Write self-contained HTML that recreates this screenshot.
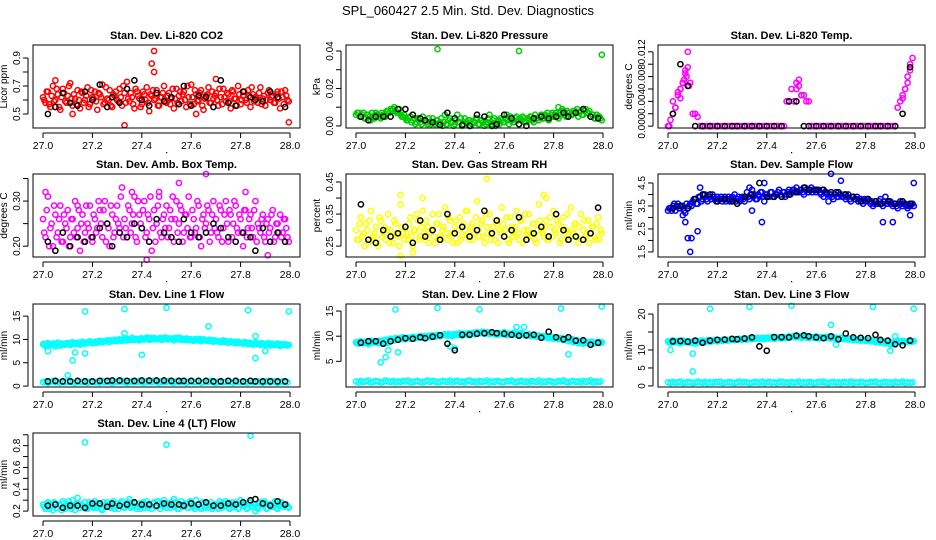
<!DOCTYPE html>
<html><head><meta charset="utf-8">
<style>
html,body{margin:0;padding:0;background:#fff;}
svg{display:block;font-family:"Liberation Sans",Arial,sans-serif;}
</style></head>
<body>
<svg id="chart" width="936" height="540" viewBox="0 0 936 540">
<text x="468" y="15" text-anchor="middle" font-size="13">SPL_060427  2.5 Min. Std. Dev. Diagnostics</text>
</svg>
<script>
// ---- shared time axes ----
const times = [27.00,27.01,27.02,27.03,27.04,27.05,27.06,27.07,27.08,27.09,27.10,27.11,27.12,27.13,27.14,27.15,27.16,27.17,27.18,27.19,27.20,27.21,27.22,27.23,27.24,27.25,27.26,27.27,27.28,27.29,27.30,27.31,27.32,27.33,27.34,27.35,27.36,27.37,27.38,27.39,27.40,27.41,27.42,27.43,27.44,27.45,27.46,27.47,27.48,27.49,27.50,27.51,27.52,27.53,27.54,27.55,27.56,27.57,27.58,27.59,27.60,27.61,27.62,27.63,27.64,27.65,27.66,27.67,27.68,27.69,27.70,27.71,27.72,27.73,27.74,27.75,27.76,27.77,27.78,27.79,27.80,27.81,27.82,27.83,27.84,27.85,27.86,27.87,27.88,27.89,27.90,27.91,27.92,27.93,27.94,27.95,27.96,27.97,27.98,27.99];
const timesB = [27.005,27.015,27.025,27.035,27.045,27.055,27.065,27.075,27.085,27.095,27.105,27.115,27.125,27.135,27.145,27.155,27.165,27.175,27.185,27.195,27.205,27.215,27.225,27.235,27.245,27.255,27.265,27.275,27.285,27.295,27.305,27.315,27.325,27.335,27.345,27.355,27.365,27.375,27.385,27.395,27.405,27.415,27.425,27.435,27.445,27.455,27.465,27.475,27.485,27.495,27.505,27.515,27.525,27.535,27.545,27.555,27.565,27.575,27.585,27.595,27.605,27.615,27.625,27.635,27.645,27.655,27.665,27.675,27.685,27.695,27.705,27.715,27.725,27.735,27.745,27.755,27.765,27.775,27.785,27.795,27.805,27.815,27.825,27.835,27.845,27.855,27.865,27.875,27.885,27.895,27.905,27.915,27.925,27.935,27.945,27.955,27.965,27.975,27.985,27.995];
const blackTimes = [27.02,27.05,27.08,27.11,27.14,27.17,27.20,27.23,27.26,27.28,27.31,27.34,27.37,27.40,27.43,27.46,27.49,27.52,27.55,27.57,27.60,27.63,27.66,27.69,27.72,27.75,27.78,27.81,27.84,27.86,27.89,27.92,27.95,27.98];
const xTicks = [27.0,27.2,27.4,27.6,27.8,28.0];
const xTickLabels = ["27.0","27.2","27.4","27.6","27.8","28.0"];

// ---- CO2 ----
const co2Vals = [0.62,0.58,0.66,0.55,0.70,0.60,0.64,0.53,0.68,0.59,0.63,0.72,0.56,0.61,0.67,0.54,0.65,0.60,0.69,0.57,0.62,0.66,0.53,0.64,0.71,0.58,0.61,0.67,0.55,0.63,0.60,0.68,0.56,0.65,0.73,0.59,0.62,0.54,0.66,0.61,0.57,0.64,0.69,0.52,0.63,0.60,0.67,0.56,0.62,0.70,0.58,0.65,0.61,0.54,0.68,0.63,0.59,0.66,0.55,0.62,0.71,0.57,0.64,0.60,0.67,0.53,0.63,0.69,0.58,0.61,0.65,0.56,0.62,0.68,0.59,0.64,0.54,0.66,0.61,0.70,0.57,0.63,0.60,0.67,0.55,0.64,0.62,0.58,0.69,0.61,0.56,0.65,0.60,0.63,0.58,0.66,0.54,0.62,0.67,0.60];
const co2ValsB = [0.60,0.66,0.57,0.63,0.59,0.68,0.55,0.62,0.65,0.58,0.70,0.61,0.64,0.57,0.60,0.66,0.58,0.63,0.55,0.67,0.61,0.59,0.65,0.62,0.57,0.69,0.60,0.56,0.64,0.66,0.59,0.62,0.70,0.58,0.61,0.65,0.57,0.68,0.63,0.55,0.66,0.60,0.58,0.64,0.67,0.61,0.56,0.62,0.65,0.59,0.63,0.57,0.68,0.61,0.58,0.66,0.64,0.60,0.70,0.57,0.62,0.67,0.59,0.65,0.56,0.61,0.64,0.58,0.66,0.63,0.60,0.68,0.57,0.62,0.65,0.59,0.67,0.61,0.56,0.64,0.60,0.66,0.58,0.63,0.69,0.59,0.61,0.65,0.57,0.63,0.60,0.67,0.62,0.58,0.64,0.61,0.66,0.57,0.63,0.59];
const co2OutT = [27.45,27.44,27.45,27.33,27.995,27.12,27.62,27.05,27.7];
const co2OutV = [0.95,0.86,0.80,0.42,0.44,0.50,0.50,0.74,0.75];
const co2Black = [0.50,0.55,0.65,0.58,0.56,0.66,0.60,0.71,0.55,0.62,0.58,0.68,0.74,0.60,0.56,0.65,0.59,0.62,0.57,0.70,0.56,0.63,0.62,0.55,0.74,0.58,0.56,0.66,0.62,0.60,0.59,0.66,0.62,0.55];

// ---- Pressure ----
const presVals = [0.006,0.007,0.005,0.007,0.004,0.006,0.003,0.005,0.007,0.006,0.004,0.006,0.005,0.008,0.009,0.009,0.008,0.007,0.006,0.005,0.004,0.003,0.005,0.003,0.001,0.004,0.002,0.005,0.003,0.001,0.002,0.004,0.001,0.003,0.002,0.000,0.006,0.001,0.004,0.002,0.001,0.006,0.002,0.000,0.004,0.002,0.003,0.001,0.002,0.004,0.001,0.003,0.000,0.002,0.006,0.001,0.004,0.002,0.001,0.003,0.002,0.006,0.001,0.003,0.002,0.005,0.001,0.003,0.004,0.002,0.003,0.005,0.002,0.004,0.003,0.006,0.004,0.005,0.003,0.006,0.005,0.007,0.004,0.006,0.008,0.005,0.007,0.006,0.008,0.007,0.005,0.008,0.006,0.009,0.007,0.005,0.006,0.004,0.005,0.004];
const presValsB = [0.007,0.005,0.006,0.004,0.006,0.005,0.007,0.004,0.006,0.005,0.007,0.005,0.008,0.007,0.008,0.010,0.007,0.009,0.005,0.006,0.003,0.004,0.002,0.004,0.002,0.003,0.001,0.003,0.002,0.004,0.001,0.002,0.003,0.001,0.004,0.002,0.001,0.003,0.002,0.000,0.003,0.002,0.004,0.001,0.002,0.003,0.000,0.002,0.004,0.001,0.003,0.002,0.001,0.004,0.002,0.003,0.000,0.003,0.004,0.002,0.004,0.003,0.005,0.002,0.004,0.003,0.004,0.005,0.002,0.004,0.005,0.003,0.006,0.004,0.005,0.004,0.006,0.007,0.005,0.007,0.006,0.005,0.007,0.009,0.006,0.008,0.007,0.006,0.008,0.009,0.007,0.006,0.008,0.007,0.008,0.006,0.004,0.006,0.005,0.003];
const presOutT = [27.33,27.66,27.995,27.82];
const presOutV = [0.041,0.040,0.038,0.010];
const presBlack = [0.005,0.003,0.005,0.005,0.005,0.009,0.009,0.006,0.004,0.003,0.002,0.0005,0.007,0.004,0.0005,0.000,0.006,0.005,0.000,0.001,0.006,0.004,0.001,0.000,0.004,0.005,0.004,0.005,0.007,0.005,0.007,0.009,0.005,0.004];

// ---- Li-820 Temp ----
const tempVals = [0.000,0.001,0.004,0.003,0.005,0.006,0.007,0.009,0.012,0.007,0.002,0.002,0.0015,0,0,0,0,0,0,0,0,0,0,0,0,0,0,0,0,0,0,0,0,0,0,0,0,0,0,0,0,0,0,0,0,0,0,0,0.004,0.004,0.006,0.004,0.007,0.0075,0.005,0.005,0.004,0.004,0,0,0,0,0,0,0,0,0,0,0,0,0,0,0,0,0,0,0,0,0,0,0,0,0,0,0,0,0,0,0,0,0,0,0,0.003,0.004,0.005,0.006,0.008,0.010,0.011];
const tempOutT = [27.03,27.05,27.06,27.07,27.08,27.05,27.52,27.95,27.97,27.98,27.04,27.53,27.54,27.96,27.02,27.065,27.075,27.085,27.005];
const tempOutV = [0.003,0.006,0.007,0.0085,0.0095,0.0045,0.006,0.0045,0.007,0.009,0.0055,0.0065,0.005,0.006,0.002,0.0075,0.008,0.0065,0.0];
const tempBlack = [0.002,0.010,0.0065,0,0,0,0,0,0,0,0,0,0,0,0,0,0.004,0.004,0,0,0,0,0,0,0,0,0,0,0,0,0,0,0.002,0.0095];

// ---- Amb box temp ----
const ambVals = [0.26,0.22,0.31,0.24,0.20,0.27,0.23,0.29,0.21,0.25,0.28,0.22,0.26,0.30,0.24,0.19,0.27,0.23,0.25,0.29,0.21,0.26,0.24,0.28,0.22,0.30,0.25,0.20,0.27,0.23,0.29,0.24,0.33,0.26,0.22,0.28,0.25,0.31,0.21,0.27,0.24,0.30,0.23,0.26,0.19,0.28,0.25,0.32,0.22,0.27,0.29,0.24,0.26,0.21,0.30,0.25,0.28,0.23,0.27,0.31,0.22,0.26,0.24,0.29,0.20,0.27,0.25,0.28,0.23,0.30,0.26,0.22,0.28,0.24,0.30,0.21,0.27,0.25,0.29,0.23,0.26,0.20,0.28,0.24,0.27,0.22,0.30,0.25,0.23,0.27,0.21,0.26,0.24,0.28,0.22,0.25,0.27,0.23,0.26,0.22];
const ambValsB = [0.23,0.28,0.20,0.25,0.29,0.22,0.26,0.21,0.27,0.24,0.20,0.26,0.23,0.22,0.28,0.25,0.21,0.29,0.24,0.22,0.27,0.23,0.30,0.25,0.28,0.21,0.24,0.29,0.22,0.26,0.25,0.31,0.22,0.24,0.29,0.23,0.27,0.22,0.30,0.25,0.28,0.22,0.27,0.31,0.24,0.21,0.29,0.23,0.26,0.24,0.22,0.28,0.31,0.26,0.23,0.29,0.21,0.27,0.24,0.22,0.28,0.23,0.30,0.22,0.26,0.24,0.29,0.21,0.27,0.24,0.23,0.29,0.21,0.27,0.25,0.28,0.22,0.30,0.24,0.27,0.23,0.28,0.22,0.26,0.24,0.28,0.21,0.24,0.26,0.22,0.25,0.23,0.27,0.21,0.25,0.23,0.22,0.26,0.24,0.21];
const ambOutT = [27.01,27.55,27.66,27.42,27.91,27.36,27.82,27.47,27.14];
const ambOutV = [0.32,0.34,0.36,0.17,0.18,0.32,0.32,0.31,0.29];
const ambBlack = [0.21,0.19,0.23,0.20,0.22,0.21,0.22,0.24,0.25,0.20,0.23,0.22,0.25,0.24,0.21,0.26,0.23,0.22,0.21,0.26,0.23,0.22,0.23,0.25,0.24,0.22,0.21,0.23,0.22,0.19,0.24,0.21,0.23,0.21];

// ---- Gas stream RH ----
const rhVals = [0.30,0.27,0.34,0.29,0.32,0.26,0.36,0.28,0.31,0.25,0.33,0.29,0.27,0.35,0.30,0.26,0.32,0.28,0.38,0.29,0.31,0.27,0.34,0.25,0.30,0.33,0.28,0.36,0.27,0.31,0.29,0.35,0.26,0.32,0.28,0.30,0.37,0.27,0.33,0.29,0.31,0.26,0.34,0.28,0.30,0.36,0.27,0.32,0.29,0.39,0.28,0.33,0.26,0.31,0.35,0.29,0.27,0.32,0.30,0.37,0.28,0.34,0.26,0.31,0.29,0.36,0.27,0.33,0.30,0.28,0.35,0.29,0.32,0.26,0.38,0.30,0.28,0.33,0.27,0.31,0.36,0.29,0.32,0.27,0.34,0.30,0.28,0.37,0.29,0.32,0.26,0.35,0.30,0.28,0.33,0.29,0.31,0.27,0.34,0.30];
const rhValsB = [0.27,0.32,0.28,0.25,0.30,0.33,0.27,0.29,0.26,0.34,0.28,0.31,0.30,0.26,0.28,0.33,0.29,0.25,0.31,0.27,0.29,0.32,0.28,0.30,0.35,0.27,0.31,0.29,0.33,0.26,0.30,0.28,0.32,0.35,0.27,0.31,0.29,0.34,0.28,0.26,0.33,0.30,0.27,0.32,0.36,0.29,0.31,0.27,0.34,0.30,0.32,0.28,0.35,0.29,0.27,0.31,0.33,0.26,0.29,0.32,0.30,0.27,0.34,0.28,0.31,0.29,0.33,0.26,0.35,0.30,0.28,0.32,0.27,0.30,0.33,0.29,0.31,0.27,0.34,0.28,0.30,0.33,0.26,0.31,0.29,0.35,0.27,0.30,0.32,0.28,0.31,0.27,0.33,0.29,0.26,0.31,0.28,0.32,0.27,0.29];
const rhOutT = [27.53,27.18,27.27,27.76,27.77,27.23,27.18];
const rhOutV = [0.46,0.41,0.40,0.41,0.40,0.23,0.22];
const rhBlack = [0.38,0.27,0.26,0.30,0.28,0.29,0.31,0.26,0.33,0.28,0.30,0.27,0.35,0.29,0.31,0.28,0.30,0.36,0.29,0.33,0.28,0.30,0.34,0.27,0.29,0.31,0.28,0.35,0.30,0.27,0.28,0.27,0.29,0.37];

// ---- Sample flow ----
const flowVals = [3.3,3.4,3.5,3.3,3.6,3.4,3.5,3.2,3.4,3.6,3.7,3.8,3.6,3.9,3.8,4.0,3.7,3.9,4.0,3.8,3.9,3.8,3.7,3.9,3.8,3.7,3.9,4.0,3.8,3.7,3.9,3.7,4.1,3.8,4.2,4.0,3.8,3.9,4.1,3.7,4.0,3.9,4.1,3.9,4.0,4.2,3.9,4.1,4.0,4.2,4.1,4.2,4.3,4.1,4.2,4.0,4.2,4.1,4.3,4.2,4.1,4.2,4.0,3.9,4.1,3.7,4.0,3.8,4.1,3.9,4.0,3.9,3.8,4.0,3.7,3.9,3.8,3.7,3.8,3.6,3.7,3.8,3.6,3.5,3.7,3.6,3.8,3.5,3.9,3.6,3.7,3.5,3.6,3.4,3.7,3.5,3.6,3.4,3.5,3.6];
const flowValsB = [3.4,3.3,3.6,3.5,3.4,3.5,3.3,3.6,3.5,3.5,3.8,3.6,3.9,3.7,4.0,3.8,3.9,3.8,3.9,3.7,3.8,3.9,3.8,3.7,3.9,3.8,3.8,3.7,3.9,3.8,3.8,3.9,3.9,4.0,3.9,3.8,4.0,4.1,3.9,4.0,3.9,4.1,3.9,4.0,4.1,4.0,4.1,3.9,4.1,4.0,4.2,4.1,4.1,4.2,4.1,4.3,4.1,4.2,4.1,4.2,4.2,4.1,4.2,4.1,4.0,4.0,3.9,4.0,3.9,4.0,3.9,4.0,3.9,3.8,3.9,3.8,3.9,3.8,3.7,3.8,3.8,3.7,3.7,3.6,3.6,3.7,3.6,3.7,3.6,3.7,3.6,3.6,3.5,3.6,3.6,3.6,3.5,3.5,3.6,3.5];
const flowOutT = [27.09,27.08,27.095,27.12,27.07,27.66,27.70,27.38,27.995,27.98,27.87,27.91,27.06,27.13,27.33,27.39,27.34];
const flowOutV = [1.5,2.1,2.1,2.4,2.8,4.9,4.6,2.8,4.5,3.1,2.8,2.8,3.1,4.3,4.3,4.5,3.3];
const flowBlack = [3.4,3.5,3.4,3.8,4.0,4.0,3.7,3.8,3.7,3.6,3.9,4.0,4.5,3.9,3.9,3.9,4.0,4.1,4.3,4.2,4.2,4.2,4.1,4.1,4.0,3.9,3.7,3.8,3.7,3.6,3.7,3.6,3.7,3.6];

// ---- Line 1 flow ----
const l1Upper = [9.0,8.6,9.2,8.8,9.1,8.5,9.3,8.7,9.0,8.9,9.2,8.8,9.4,9.0,9.3,8.9,9.5,9.1,9.3,9.6,9.2,9.5,9.3,9.7,9.4,9.6,9.8,9.5,9.7,9.9,9.6,10.0,9.7,10.2,9.8,10.0,10.3,9.9,10.1,9.8,10.2,10.0,10.4,9.9,10.1,10.3,10.0,10.2,9.9,10.1,10.3,10.0,10.2,9.8,10.1,10.4,9.9,10.0,10.2,9.8,10.0,9.7,10.1,9.9,9.6,10.0,9.8,9.7,9.9,9.5,9.7,9.6,9.4,9.8,9.5,9.3,9.6,9.4,9.2,9.5,9.3,9.1,9.4,9.0,9.2,8.9,9.3,9.0,8.8,9.1,8.9,9.2,8.7,9.0,8.8,9.1,8.6,8.9,9.0,8.7];
const l1UpperB = [8.8,9.1,8.9,9.0,8.7,9.0,8.8,9.1,8.9,9.2,9.0,9.3,9.1,9.2,9.1,9.4,9.2,9.3,9.5,9.3,9.4,9.3,9.6,9.5,9.6,9.7,9.5,9.8,9.6,9.7,9.9,9.8,10.0,9.8,10.1,9.9,10.0,10.1,9.9,10.2,10.0,10.2,10.1,10.3,10.0,10.2,10.1,10.3,10.2,10.4,10.0,10.2,10.1,10.3,10.0,10.2,10.1,9.9,10.1,10.0,9.8,10.0,9.9,10.1,9.8,9.9,9.7,9.9,9.6,9.8,9.6,9.5,9.7,9.5,9.6,9.4,9.5,9.3,9.5,9.3,9.2,9.4,9.2,9.3,9.0,9.2,9.1,9.0,9.2,8.9,9.0,8.9,9.1,8.8,9.0,8.8,9.0,8.8,8.9,8.8];
const l1Lower = [0.8,1.0,0.7,0.9,1.1,0.8,0.9,0.7,1.0,0.8,0.9,1.1,0.8,0.7,1.0,0.9,0.8,1.1,0.7,0.9,1.0,0.8,0.9,0.7,1.1,0.8,1.0,0.9,0.7,0.8,1.0,0.9,1.1,0.8,0.7,0.9,1.0,0.8,0.9,1.1,0.8,0.7,1.0,0.9,0.8,1.1,0.9,0.7,1.0,0.8,0.9,1.1,0.8,0.7,1.0,0.9,0.8,1.0,0.7,0.9,1.1,0.8,0.9,1.0,0.7,0.8,1.0,0.9,1.1,0.8,0.7,0.9,1.0,0.8,0.9,1.1,0.8,0.7,1.0,0.9,0.8,1.0,0.9,0.7,1.1,0.8,0.9,1.0,0.8,0.7,0.9,1.1,0.8,1.0,0.9,0.7,0.8,1.0,0.9,0.8];
const l1OutT = [27.17,27.33,27.50,27.83,27.995,27.67,27.86,27.86,27.12,27.10,27.17,27.40,27.02,27.33,27.13,27.9];
const l1OutV = [16.0,16.5,16.8,16.3,16.0,12.8,6.0,10.7,5.5,2.3,7.0,6.7,7.5,11.3,7.2,7.5];
const l1Black = [1.0,1.1,1.0,1.0,1.1,1.0,1.0,1.1,1.1,1.2,1.2,1.1,1.1,1.2,1.2,1.2,1.2,1.1,1.1,1.1,1.1,1.1,1.1,1.0,1.0,1.1,1.1,1.0,1.1,1.0,1.0,1.0,1.0,1.0];

// ---- Line 2 flow ----
const l2Upper = [8.8,8.5,9.0,8.6,8.9,8.4,9.1,8.7,8.9,8.6,9.0,8.8,9.3,8.7,9.5,9.1,9.6,9.3,9.5,9.8,9.4,9.7,9.5,9.9,9.6,9.8,10.0,9.7,9.9,10.1,9.8,10.2,9.9,10.3,10.0,10.2,10.4,10.1,10.3,10.0,10.4,10.2,10.6,10.1,10.3,10.5,10.2,10.6,10.4,10.8,10.6,10.9,10.5,10.8,10.4,10.7,10.5,10.3,10.6,10.4,10.8,10.2,10.5,10.3,10.7,10.4,10.2,10.6,10.3,10.1,10.4,10.0,10.2,9.9,10.1,9.7,10.0,9.8,9.6,9.9,9.5,9.7,9.4,9.6,9.2,9.5,9.0,9.3,8.8,9.1,8.6,8.9,8.5,8.8,8.6,8.9,8.5,8.7,8.9,8.6];
const l2UpperB = [8.6,8.9,8.7,8.8,8.6,8.8,8.9,9.0,8.8,9.1,8.9,9.2,9.0,9.3,9.2,9.4,9.3,9.6,9.4,9.6,9.5,9.7,9.6,9.8,9.7,9.9,9.8,10.0,9.9,10.1,10.0,10.1,10.0,10.2,10.1,10.3,10.2,10.4,10.2,10.4,10.3,10.5,10.3,10.5,10.4,10.6,10.5,10.7,10.5,10.7,10.6,10.8,10.6,10.7,10.5,10.6,10.4,10.6,10.4,10.5,10.3,10.5,10.4,10.6,10.3,10.5,10.3,10.4,10.2,10.3,10.1,10.2,10.0,10.1,9.9,10.0,9.8,9.9,9.7,9.8,9.6,9.7,9.5,9.6,9.4,9.5,9.3,9.4,9.1,9.2,8.9,9.0,8.7,8.8,8.7,8.9,8.6,8.8,8.7,8.8];
const l2Lower = [1.0,0.8,1.1,0.9,1.0,1.2,0.8,0.9,1.1,1.0,0.8,0.9,1.2,1.0,0.9,1.1,0.8,1.0,0.9,1.1,1.0,1.2,0.8,0.9,1.0,1.1,0.9,0.8,1.0,1.2,0.9,1.1,1.0,0.8,0.9,1.1,1.0,0.9,1.2,0.8,1.0,1.1,0.9,1.0,0.8,1.1,1.2,0.9,1.0,0.8,1.1,0.9,1.0,1.2,0.8,1.0,0.9,1.1,1.0,0.8,0.9,1.1,1.0,1.2,0.9,0.8,1.0,1.1,0.9,1.0,0.8,1.1,1.0,0.9,1.2,0.8,1.0,0.9,1.1,1.0,0.8,0.9,1.1,1.0,1.2,0.9,0.8,1.0,1.1,0.9,1.0,0.8,1.1,0.9,1.0,1.2,0.8,1.0,0.9,1.0];
const l2OutT = [27.16,27.33,27.50,27.83,27.995,27.10,27.12,27.13,27.17,27.4,27.38,27.65,27.68,27.86];
const l2OutV = [15.3,15.6,15.3,15.5,15.9,4.8,5.8,7.2,6.8,7.6,8.0,11.8,11.8,6.4];
const l2Black = [8.7,9.0,9.0,8.5,9.0,9.3,9.6,9.5,9.8,9.6,9.9,10.2,8.5,7.2,10.3,10.3,10.5,10.6,10.8,10.6,10.5,10.3,10.1,10.2,10.3,9.7,10.9,9.8,9.4,9.8,9.1,9.2,8.3,8.7];

// ---- Line 3 flow ----
const l3Upper = [12.4,12.0,12.7,12.2,12.5,11.9,12.6,12.1,12.4,12.0,12.3,11.8,12.5,12.1,12.6,12.2,12.7,12.3,12.5,12.8,12.4,12.7,12.5,12.9,12.6,12.8,13.0,12.7,12.9,13.1,12.8,13.2,12.9,13.3,13.0,13.2,13.4,13.1,13.3,13.0,13.4,13.2,13.6,13.1,13.3,13.5,13.2,13.6,13.4,13.8,13.6,13.9,13.5,13.8,13.4,13.7,13.5,13.3,13.6,13.4,13.8,13.2,13.5,13.3,13.7,13.4,13.2,13.6,13.3,13.1,13.4,13.0,13.2,12.9,13.1,12.7,13.0,12.8,12.6,12.9,12.5,12.7,12.4,12.6,12.2,12.5,12.0,12.3,11.8,12.1,11.6,11.9,12.3,12.6,12.2,12.5,12.1,12.4,12.6,12.3];
const l3UpperB = [12.1,12.5,12.2,12.4,12.0,12.3,12.5,12.2,12.4,12.1,12.5,12.2,12.3,12.6,12.4,12.5,12.7,12.4,12.6,12.8,12.6,12.7,12.9,12.7,12.8,13.0,12.8,13.0,13.1,12.9,13.1,13.0,13.2,13.1,13.3,13.1,13.3,13.2,13.4,13.2,13.4,13.3,13.5,13.3,13.5,13.4,13.6,13.4,13.6,13.5,13.7,13.5,13.7,13.6,13.5,13.6,13.4,13.6,13.5,13.7,13.4,13.6,13.4,13.5,13.3,13.5,13.3,13.4,13.2,13.3,13.1,13.2,13.0,13.1,12.9,13.0,12.8,12.9,12.7,12.8,12.6,12.7,12.5,12.6,12.4,12.5,12.3,12.4,12.2,12.3,12.0,12.2,12.1,12.4,12.3,12.5,12.2,12.4,12.3,12.5];
const l3Lower = [1.0,0.8,1.1,0.9,1.0,1.2,0.8,0.9,1.1,1.0,0.8,0.9,1.2,1.0,0.9,1.1,0.8,1.0,0.9,1.1,1.0,1.2,0.8,0.9,1.0,1.1,0.9,0.8,1.0,1.2,0.9,1.1,1.0,0.8,0.9,1.1,1.0,0.9,1.2,0.8,1.0,1.1,0.9,1.0,0.8,1.1,1.2,0.9,1.0,0.8,1.1,0.9,1.0,1.2,0.8,1.0,0.9,1.1,1.0,0.8,0.9,1.1,1.0,1.2,0.9,0.8,1.0,1.1,0.9,1.0,0.8,1.1,1.0,0.9,1.2,0.8,1.0,0.9,1.1,1.0,0.8,0.9,1.1,1.0,1.2,0.9,0.8,1.0,1.1,0.9,1.0,0.8,1.1,0.9,1.0,1.2,0.8,1.0,0.9,1.0];
const l3OutT = [27.17,27.33,27.50,27.83,27.995,27.01,27.10,27.10,27.66,27.9,27.92,27.68];
const l3OutV = [21.5,22.0,22.3,22.0,21.5,10.0,9.0,4.0,17.0,9.8,13.8,11.5];
const l3Black = [12.4,12.5,12.3,12.6,12.0,12.6,12.8,12.9,13.1,13.0,13.2,13.5,11.0,9.8,13.6,13.6,13.5,14.0,14.1,13.8,13.5,13.3,13.8,13.0,14.6,13.5,13.4,13.3,14.2,12.8,12.6,11.6,11.3,12.6];

// ---- Line 4 flow ----
const l4Vals = [0.26,0.22,0.28,0.24,0.21,0.27,0.23,0.25,0.29,0.22,0.26,0.24,0.30,0.21,0.27,0.23,0.25,0.28,0.22,0.26,0.24,0.29,0.23,0.27,0.21,0.25,0.28,0.24,0.26,0.22,0.27,0.25,0.29,0.23,0.26,0.31,0.24,0.28,0.22,0.27,0.25,0.23,0.29,0.26,0.22,0.28,0.24,0.27,0.25,0.30,0.23,0.26,0.28,0.24,0.27,0.22,0.29,0.25,0.26,0.23,0.28,0.24,0.30,0.26,0.22,0.27,0.25,0.23,0.28,0.24,0.26,0.22,0.27,0.25,0.29,0.23,0.26,0.24,0.28,0.22,0.30,0.25,0.27,0.23,0.29,0.24,0.26,0.22,0.28,0.25,0.27,0.23,0.26,0.24,0.29,0.22,0.27,0.25,0.26,0.24];
const l4ValsB = [0.24,0.27,0.22,0.25,0.28,0.23,0.26,0.21,0.27,0.24,0.29,0.22,0.25,0.27,0.23,0.26,0.24,0.22,0.28,0.25,0.23,0.27,0.25,0.22,0.28,0.24,0.26,0.23,0.29,0.25,0.22,0.27,0.24,0.26,0.28,0.23,0.25,0.27,0.24,0.22,0.28,0.26,0.23,0.25,0.27,0.24,0.29,0.22,0.26,0.25,0.27,0.23,0.25,0.28,0.22,0.26,0.24,0.27,0.23,0.29,0.25,0.22,0.26,0.24,0.28,0.23,0.27,0.25,0.22,0.26,0.24,0.29,0.23,0.27,0.25,0.22,0.28,0.24,0.26,0.23,0.27,0.25,0.22,0.28,0.24,0.26,0.23,0.27,0.25,0.29,0.22,0.26,0.24,0.27,0.23,0.25,0.28,0.24,0.26,0.23];
const l4OutT = [27.17,27.50,27.84,27.14,27.53,27.86];
const l4OutV = [0.83,0.81,0.89,0.32,0.31,0.20];
const l4Black = [0.25,0.26,0.23,0.25,0.25,0.23,0.27,0.27,0.24,0.27,0.25,0.26,0.28,0.26,0.26,0.25,0.27,0.26,0.26,0.25,0.27,0.26,0.28,0.25,0.25,0.27,0.26,0.28,0.30,0.31,0.27,0.25,0.29,0.26];

const NS = 'http://www.w3.org/2000/svg';
const svg = document.getElementById('chart');
function mk(tag, attrs, parent){
  const e = document.createElementNS(NS, tag);
  for (const k in attrs) e.setAttribute(k, attrs[k]);
  (parent||svg).appendChild(e);
  return e;
}

const colLeft = [33, 346, 658];
const rowTop = [45, 174, 304, 433];
const boxW = 267, boxH = 83;

function panel(key, col, row, title, ylab, ylim, yTicks, yLabels, series){
  const L = colLeft[col], T = rowTop[row], R = L+boxW, B = T+boxH;
  const g = mk('g', {});
  
  
  const xs = v => L + 10 + (v-27)*(boxW-20);
  const ys = v => B - (v-ylim[0])/(ylim[1]-ylim[0])*boxH;
  const t = mk('text', {x:(L+R)/2, y:T-6, 'text-anchor':'middle', 'font-size':'11', 'font-weight':'bold'}, g);
  t.textContent = title;
  
  
  const pts = mk('g', {fill:'none', 'stroke-width':'1.5'}, g);
  
  
  series.forEach(s => {
    const n = Math.min(s.t.length, s.v.length);
    for (let i=0;i<n;i++){
      const y = ys(s.v[i]);
      const c = mk('circle', {cx:xs(s.t[i]).toFixed(1), cy:y.toFixed(1), r:'2.6', stroke:s.c}, pts);
      
      
    }
  });
  const bx = mk('rect', {x:L, y:T, width:boxW, height:boxH, fill:'none', stroke:'#000', 'stroke-width':'1'}, g);
  
  
  const xa = mk('g', {}, g);
  
  
  mk('line', {x1:xs(xTicks[0]), x2:xs(xTicks[xTicks.length-1]), y1:B+5, y2:B+5, stroke:'#000'}, xa);
  xTicks.forEach((v,i) => {
    mk('line', {x1:xs(v), x2:xs(v), y1:B+5, y2:B+10, stroke:'#000'}, xa);
    const tl = mk('text', {x:xs(v), y:B+21, 'text-anchor':'middle', 'font-size':'10.5'}, xa);
    tl.textContent = xTickLabels[i];
  });
  mk('rect', {x:xs(27.5)-0.5, y:B+24, width:1.2, height:1.2, fill:'#000'}, xa);
  const ya = mk('g', {}, g);
  
  
  mk('line', {x1:L-5, x2:L-5, y1:ys(yTicks[0]), y2:ys(yTicks[yTicks.length-1]), stroke:'#000'}, ya);
  yTicks.forEach((v,i) => {
    const y = ys(v);
    mk('line', {x1:L-10, x2:L-5, y1:y, y2:y, stroke:'#000'}, ya);
    if (yLabels[i] !== ''){
      const tl = mk('text', {x:L-13, y:y, 'text-anchor':'middle', 'font-size':'10', transform:`rotate(-90 ${L-13} ${y})`}, ya);
      tl.textContent = yLabels[i];
    }
  });
  const yt = mk('text', {x:L-26, y:(T+B)/2, 'text-anchor':'middle', 'font-size':'10', transform:`rotate(-90 ${L-26} ${(T+B)/2})`}, g);
  yt.textContent = ylab;
  
  
}

panel('co2', 0, 0, 'Stan. Dev. Li-820 CO2', 'Licor ppm', [0.4, 0.993],
  [0.5,0.6,0.7,0.8,0.9], ['0.5','','0.7','','0.9'],
  [{t:times, v:co2Vals, c:'#ff0000', n:'co2-point'},
   {t:timesB, v:co2ValsB, c:'#ff0000', n:'co2-point'},
   {t:co2OutT, v:co2OutV, c:'#ff0000', n:'co2-outlier'},
   {t:blackTimes, v:co2Black, c:'#000', n:'co2-black-point'}]);

panel('pressure', 1, 0, 'Stan. Dev. Li-820 Pressure', 'kPa', [-0.0011, 0.0432],
  [0,0.01,0.02,0.03,0.04], ['0.00','','0.02','','0.04'],
  [{t:times, v:presVals, c:'#00cd00', n:'pressure-point'},
   {t:timesB, v:presValsB, c:'#00cd00', n:'pressure-point'},
   {t:presOutT, v:presOutV, c:'#00cd00', n:'pressure-outlier'},
   {t:blackTimes, v:presBlack, c:'#000', n:'pressure-black-point'}]);

panel('li820-temp', 2, 0, 'Stan. Dev. Li-820 Temp.', 'degrees C', [-0.0003, 0.0131],
  [0,0.002,0.004,0.006,0.008,0.010,0.012], ['0.000','','0.004','','0.008','','0.012'],
  [{t:times, v:tempVals, c:'#ff00ff', n:'temp-point'},
   {t:tempOutT, v:tempOutV, c:'#ff00ff', n:'temp-outlier'},
   {t:blackTimes, v:tempBlack, c:'#000', n:'temp-black-point'}]);

panel('amb-box-temp', 0, 1, 'Stan. Dev. Amb. Box Temp.', 'degrees C', [0.176, 0.36],
  [0.20,0.25,0.30,0.35], ['0.20','','0.30',''],
  [{t:times, v:ambVals, c:'#ff00ff', n:'amb-point'},
   {t:timesB, v:ambValsB, c:'#ff00ff', n:'amb-point'},
   {t:ambOutT, v:ambOutV, c:'#ff00ff', n:'amb-outlier'},
   {t:blackTimes, v:ambBlack, c:'#000', n:'amb-black-point'}]);

panel('gas-rh', 1, 1, 'Stan. Dev. Gas Stream RH', 'percent', [0.216, 0.475],
  [0.25,0.30,0.35,0.40,0.45], ['0.25','','0.35','','0.45'],
  [{t:times, v:rhVals, c:'#ffff00', n:'rh-point'},
   {t:timesB, v:rhValsB, c:'#ffff00', n:'rh-point'},
   {t:rhOutT, v:rhOutV, c:'#ffff00', n:'rh-outlier'},
   {t:blackTimes, v:rhBlack, c:'#000', n:'rh-black-point'}]);

panel('sample-flow', 2, 1, 'Stan. Dev. Sample Flow', 'ml/min', [1.28, 4.89],
  [1.5,2.0,2.5,3.0,3.5,4.0,4.5], ['1.5','','2.5','','3.5','','4.5'],
  [{t:times, v:flowVals, c:'#0000ff', n:'flow-point'},
   {t:timesB, v:flowValsB, c:'#0000ff', n:'flow-point'},
   {t:flowOutT, v:flowOutV, c:'#0000ff', n:'flow-outlier'},
   {t:blackTimes, v:flowBlack, c:'#000', n:'flow-black-point'}]);

panel('line1-flow', 0, 2, 'Stan. Dev. Line 1 Flow', 'ml/min', [-0.2, 17.6],
  [0,5,10,15], ['0','5','10','15'],
  [{t:times, v:l1Upper, c:'#00ffff', n:'line1-upper-point'},
   {t:timesB, v:l1UpperB, c:'#00ffff', n:'line1-upper-point'},
   {t:times, v:l1Lower, c:'#00ffff', n:'line1-lower-point'},
   {t:l1OutT, v:l1OutV, c:'#00ffff', n:'line1-outlier'},
   {t:blackTimes, v:l1Black, c:'#000', n:'line1-black-point'}]);

panel('line2-flow', 1, 2, 'Stan. Dev. Line 2 Flow', 'ml/min', [-0.1, 16.4],
  [5,10,15], ['5','10','15'],
  [{t:times, v:l2Upper, c:'#00ffff', n:'line2-upper-point'},
   {t:timesB, v:l2UpperB, c:'#00ffff', n:'line2-upper-point'},
   {t:times, v:l2Lower, c:'#00ffff', n:'line2-lower-point'},
   {t:l2OutT, v:l2OutV, c:'#00ffff', n:'line2-outlier'},
   {t:blackTimes, v:l2Black, c:'#000', n:'line2-black-point'}]);

panel('line3-flow', 2, 2, 'Stan. Dev. Line 3 Flow', 'ml/min', [-0.3, 22.8],
  [0,5,10,15,20], ['0','5','10','','20'],
  [{t:times, v:l3Upper, c:'#00ffff', n:'line3-upper-point'},
   {t:timesB, v:l3UpperB, c:'#00ffff', n:'line3-upper-point'},
   {t:times, v:l3Lower, c:'#00ffff', n:'line3-lower-point'},
   {t:l3OutT, v:l3OutV, c:'#00ffff', n:'line3-outlier'},
   {t:blackTimes, v:l3Black, c:'#000', n:'line3-black-point'}]);

panel('line4-flow', 0, 3, 'Stan. Dev. Line 4 (LT) Flow', 'ml/min', [0.155, 0.916],
  [0.2,0.3,0.4,0.5,0.6,0.7,0.8,0.9], ['0.2','','0.4','','0.6','','0.8',''],
  [{t:times, v:l4Vals, c:'#00ffff', n:'line4-point'},
   {t:timesB, v:l4ValsB, c:'#00ffff', n:'line4-point'},
   {t:l4OutT, v:l4OutV, c:'#00ffff', n:'line4-outlier'},
   {t:blackTimes, v:l4Black, c:'#000', n:'line4-black-point'}]);
</script>
</body></html>
